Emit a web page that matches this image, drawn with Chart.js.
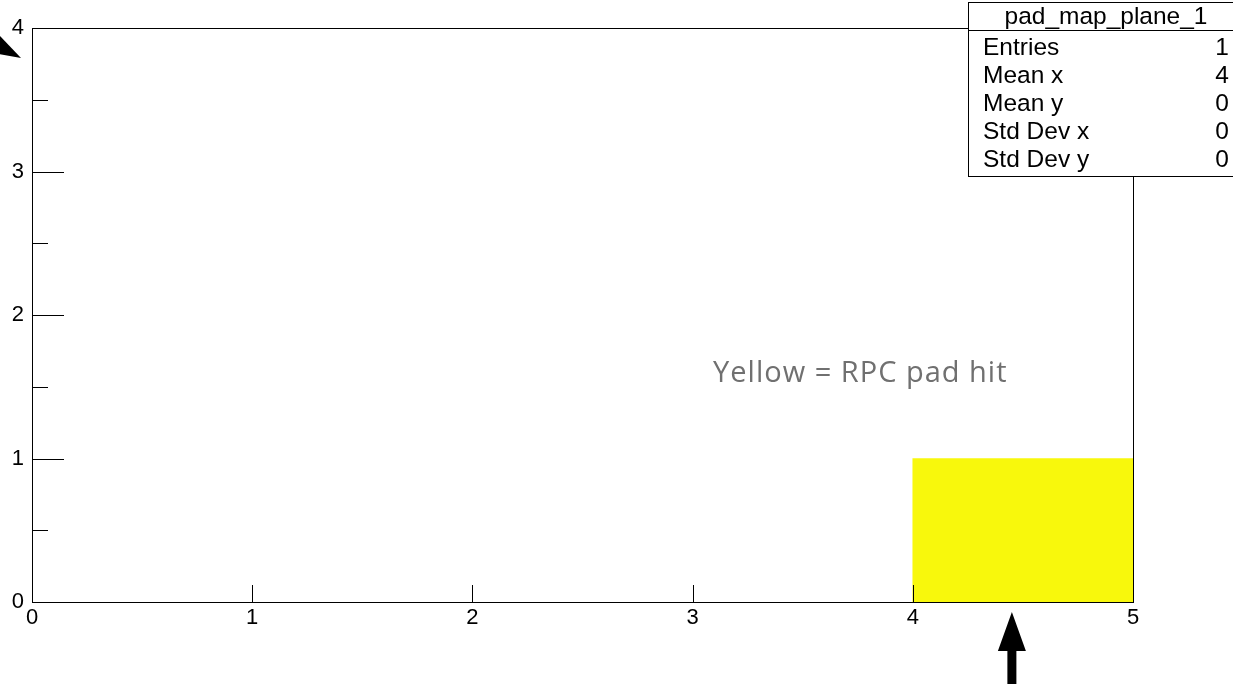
<!DOCTYPE html>
<html>
<head>
<meta charset="utf-8">
<title>pad_map_plane_1</title>
<style>
  html, body { margin: 0; padding: 0; background: #ffffff; }
  #wrap { width: 1233px; height: 684px; position: relative; overflow: hidden; }
  canvas { display: block; }
</style>
<script src="https://cdn.jsdelivr.net/npm/chart.js@4/dist/chart.umd.min.js"></script>
</head>
<body>
<div id="wrap"><canvas id="c" width="1233" height="684"></canvas></div>
<script>
// 2D pad map: one filled bin per hit pad
const histName = 'pad_map_plane_1';
const binLowX = [4];
const binHighX = [5];
const binLowY = [0];
const binHighY = [1];
const binContent = [1];

// axis ranges and tick labels
const xTickValues = [0, 1, 2, 3, 4, 5];
const yTickValues = [0, 1, 2, 3, 4];

// statistics box
const statLabels = ['Entries', 'Mean x', 'Mean y', 'Std Dev x', 'Std Dev y'];
const statValues = ['1', '4', '0', '0', '0'];

const noteText = 'Yellow = RPC pad hit';
const hitColor = '#f8f80c';

const AXIS_FONT = '"Liberation Sans", Arial, Helvetica, sans-serif';

// floating bars spanning each filled bin
const binData = binLowX.map((lo, i) => ({
  x: (lo + binHighX[i]) / 2,
  y: [binLowY[i], binHighY[i]],
  content: binContent[i]
}));

// ROOT-style frame with inward ticks, stats box and annotations
const rootStyle = {
  id: 'rootStyle',
  afterDatasetsDraw(chart) {
    const { ctx, chartArea: a, scales: { x, y } } = chart;
    ctx.save();
    ctx.strokeStyle = '#000';
    ctx.lineWidth = 1;
    ctx.beginPath();
    y.ticks.forEach(t => {
      const py = Math.round(y.getPixelForValue(t.value)) + 0.5;
      const len = Number.isInteger(t.value) ? 32 : 16;
      ctx.moveTo(a.left, py);
      ctx.lineTo(a.left + len, py);
    });
    x.ticks.forEach(t => {
      const px = Math.round(x.getPixelForValue(t.value)) + 0.5;
      ctx.moveTo(px, a.bottom);
      ctx.lineTo(px, a.bottom - 17);
    });
    ctx.stroke();
    ctx.strokeRect(Math.round(a.left) + 0.5, Math.round(a.top) + 0.5,
                   Math.round(a.right - a.left), Math.round(a.bottom - a.top));
    ctx.restore();
  },
  afterDraw(chart) {
    const { ctx, chartArea: a, scales: { x, y } } = chart;
    ctx.save();

    // annotation text inside the frame
    ctx.fillStyle = '#707070';
    ctx.font = '29px "Open Sans", Lato, sans-serif';
    ctx.letterSpacing = '1px';
    ctx.textAlign = 'left';
    ctx.textBaseline = 'alphabetic';
    ctx.fillText(noteText, x.getPixelForValue(3.093), y.getPixelForValue(1.53));
    ctx.letterSpacing = '0px';

    // arrow pointing up at the filled bin
    const ax = x.getPixelForValue(4.45);
    const tipY = a.bottom + 10;
    ctx.fillStyle = '#000';
    ctx.beginPath();
    ctx.moveTo(ax, tipY);
    ctx.lineTo(ax + 14, tipY + 39);
    ctx.lineTo(ax + 4.5, tipY + 39);
    ctx.lineTo(ax + 4.5, 690);
    ctx.lineTo(ax - 4.5, 690);
    ctx.lineTo(ax - 4.5, tipY + 39);
    ctx.lineTo(ax - 14, tipY + 39);
    ctx.closePath();
    ctx.fill();

    // arrowhead entering from the left edge
    ctx.beginPath();
    ctx.moveTo(-1, 35);
    ctx.lineTo(21, 58);
    ctx.lineTo(-1, 54);
    ctx.closePath();
    ctx.fill();

    // statistics box
    const bx = 968.5, by = 2.5, bw = 280, bh = 174;
    ctx.fillStyle = '#fff';
    ctx.fillRect(bx, by, bw, bh);
    ctx.strokeStyle = '#000';
    ctx.lineWidth = 1;
    ctx.strokeRect(bx, by, bw, bh);
    ctx.beginPath();
    ctx.moveTo(bx, 30.5);
    ctx.lineTo(bx + bw, 30.5);
    ctx.stroke();

    ctx.fillStyle = '#000';
    ctx.font = '24.5px ' + AXIS_FONT;
    ctx.textBaseline = 'middle';
    ctx.textAlign = 'center';
    ctx.fillText(histName, 1106, 17);
    statLabels.forEach((lab, i) => {
      const ry = 48 + i * 28;
      ctx.textAlign = 'left';
      ctx.fillText(lab, 983, ry);
      ctx.textAlign = 'right';
      ctx.fillText(statValues[i], 1229, ry);
    });
    ctx.restore();
  }
};

new Chart(document.getElementById('c'), {
  type: 'bar',
  data: {
    datasets: [{
      label: histName,
      data: binData,
      backgroundColor: hitColor,
      borderWidth: 0,
      barPercentage: 1,
      categoryPercentage: 1
    }]
  },
  options: {
    responsive: false,
    animation: false,
    devicePixelRatio: 1,
    layout: { padding: { top: 28, right: 100, left: 0, bottom: 0 } },
    plugins: { legend: { display: false }, tooltip: { enabled: false }, title: { display: false } },
    scales: {
      x: {
        type: 'linear',
        min: xTickValues[0],
        max: xTickValues[xTickValues.length - 1],
        offset: false,
        grid: { display: false, drawTicks: false, offset: false },
        border: { display: false },
        afterFit(scale) { scale.height = 82; },
        afterBuildTicks(scale) { scale.ticks = xTickValues.map(v => ({ value: v })); },
        ticks: {
          autoSkip: false,
          maxRotation: 0,
          padding: 3,
          color: '#000',
          font: { family: AXIS_FONT, size: 22 },
          callback: v => String(v)
        }
      },
      y: {
        type: 'linear',
        min: yTickValues[0],
        max: yTickValues[yTickValues.length - 1],
        grid: { display: false, drawTicks: false },
        border: { display: false },
        afterFit(scale) { scale.width = 32; },
        ticks: {
          stepSize: 0.5,
          autoSkip: false,
          padding: 8,
          color: '#000',
          font: { family: AXIS_FONT, size: 22 },
          callback: v => (yTickValues.includes(v) ? String(v) : '')
        }
      }
    }
  },
  plugins: [rootStyle]
});
</script>
</body>
</html>
